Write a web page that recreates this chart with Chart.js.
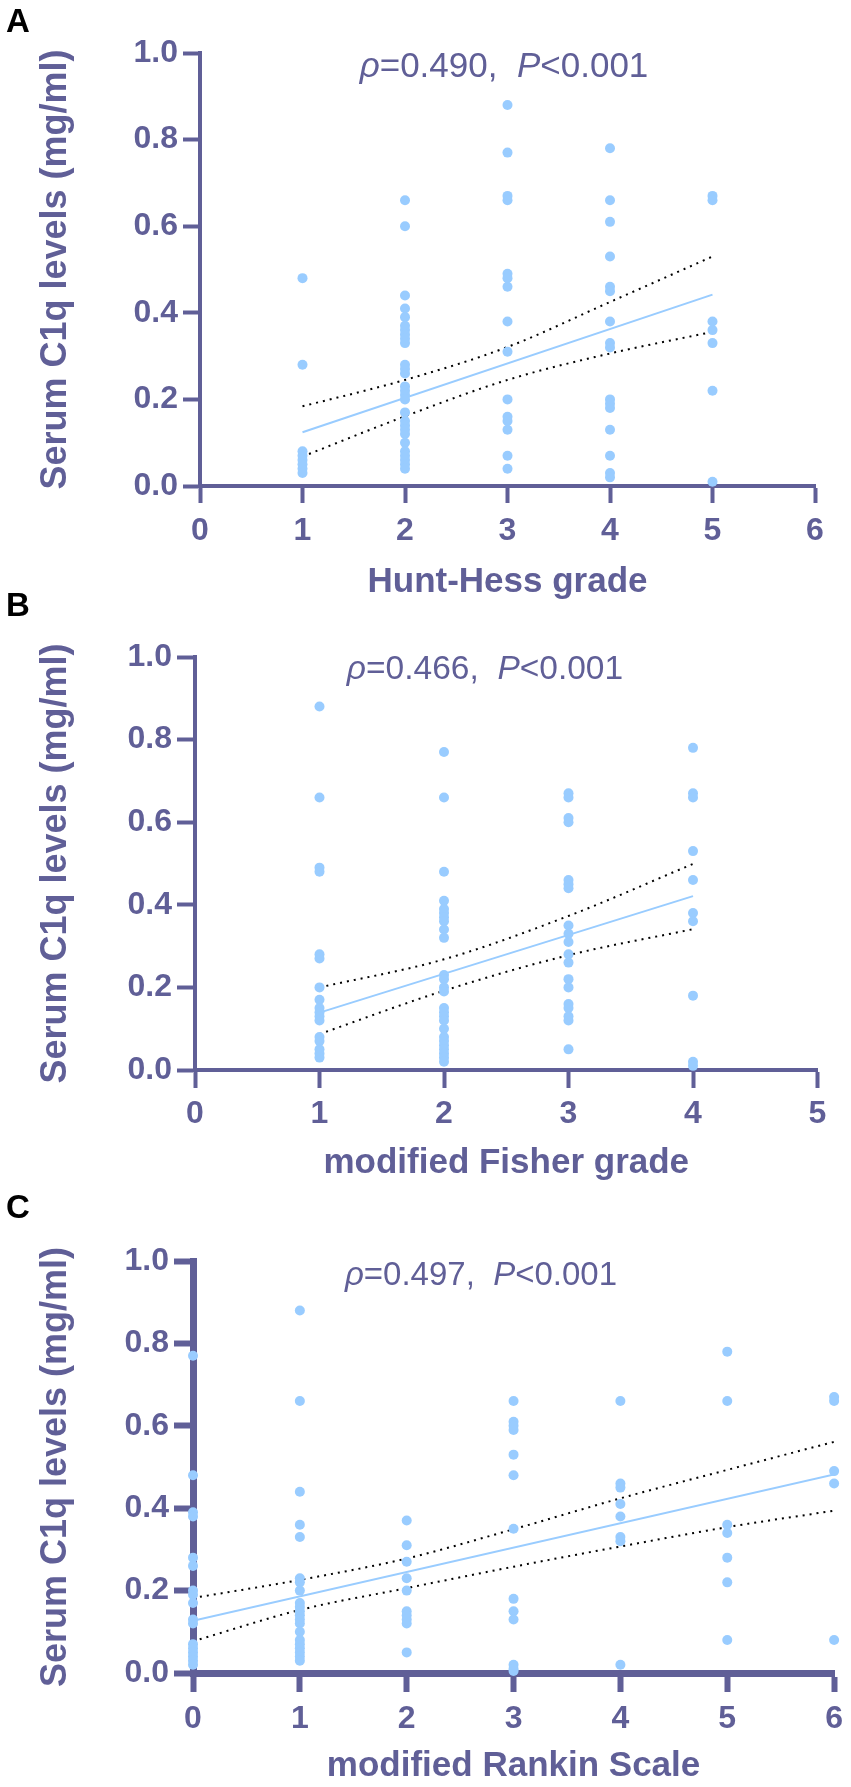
<!DOCTYPE html>
<html>
<head>
<meta charset="utf-8">
<title>Serum C1q levels vs clinical grades</title>
<script src="https://cdn.jsdelivr.net/npm/chart.js@4.4.1/dist/chart.umd.min.js"></script>
<style>
  body { margin: 0; background: #fff; }
  #page { position: relative; width: 851px; height: 1787px; overflow: hidden; font-family: "Liberation Sans", Arial, sans-serif; }
  #page canvas { position: absolute; left: 0; }
  .panel-letter { position: absolute; left: 6px; font-size: 33px; line-height: 33px; font-weight: bold; color: #000; }
  .stat { position: absolute; width: 400px; text-align: center; white-space: pre; color: #605f97; }
</style>
</head>
<body>
<div id="page">
  <canvas id="chartA" width="851" height="616" style="top:0px"></canvas>
  <canvas id="chartB" width="851" height="584" style="top:616px"></canvas>
  <canvas id="chartC" width="851" height="587" style="top:1200px"></canvas>

  <div class="panel-letter" style="top:4px">A</div>
  <div class="panel-letter" style="top:588px">B</div>
  <div class="panel-letter" style="top:1190px">C</div>

  <div class="stat" style="left:304px; top:47px; font-size:35px; line-height:35px"><i>ρ</i>=0.490,  <i>P</i>&lt;0.001</div>
  <div class="stat" style="left:285px; top:651px; font-size:33.5px; line-height:33.5px"><i>ρ</i>=0.466,  <i>P</i>&lt;0.001</div>
  <div class="stat" style="left:281px; top:1257px; font-size:33px; line-height:33px"><i>ρ</i>=0.497,  <i>P</i>&lt;0.001</div>
</div>

<script>
// ---- data (serum C1q, mg/ml) ----

const yTickValues = [0, 0.2, 0.4, 0.6, 0.8, 1.0];
const yTickLabels = ['0.0', '0.2', '0.4', '0.6', '0.8', '1.0'];

// A: Hunt-Hess grade
const huntHessTicks = [0, 1, 2, 3, 4, 5, 6];
const huntHessGrades = [1, 2, 3, 4, 5];
const huntHessLevels = [
    [0.48, 0.28, 0.08, 0.07, 0.06, 0.05, 0.04, 0.03],
    [0.66, 0.60, 0.44, 0.41, 0.39, 0.37, 0.36, 0.35, 0.34, 0.33, 0.28, 0.27, 0.26, 0.23,
     0.22, 0.21, 0.20, 0.17, 0.15, 0.14, 0.13, 0.12, 0.10, 0.08, 0.07, 0.06, 0.05, 0.04],
    [0.88, 0.77, 0.67, 0.66, 0.49, 0.48, 0.46, 0.38, 0.31, 0.20, 0.16, 0.15, 0.13, 0.07, 0.04],
    [0.78, 0.66, 0.61, 0.53, 0.46, 0.45, 0.38, 0.33, 0.32, 0.20, 0.19, 0.18, 0.13, 0.07, 0.03, 0.02],
    [0.67, 0.66, 0.38, 0.36, 0.33, 0.22, 0.01]
];
const huntHessFitX = [1, 5];
const huntHessFitY = [0.124, 0.442];
const huntHessBandX = [1, 2, 3, 4, 5];
const huntHessUpper = [0.184, 0.245, 0.321, 0.425, 0.530];
const huntHessLower = [0.068, 0.161, 0.245, 0.306, 0.356];

// B: modified Fisher grade
const fisherTicks = [0, 1, 2, 3, 4, 5];
const fisherGrades = [1, 2, 3, 4];
const fisherLevels = [
    [0.88, 0.66, 0.49, 0.48, 0.28, 0.27, 0.20, 0.17, 0.15, 0.14, 0.13, 0.12, 0.08, 0.07, 0.05, 0.04, 0.03],
    [0.77, 0.66, 0.48, 0.41, 0.39, 0.38, 0.37, 0.36, 0.34, 0.32, 0.23, 0.22, 0.20,
     0.19, 0.15, 0.14, 0.13, 0.12, 0.10, 0.08, 0.07, 0.06, 0.05, 0.04, 0.03, 0.02],
    [0.67, 0.66, 0.61, 0.60, 0.46, 0.45, 0.44, 0.35, 0.33, 0.31, 0.28, 0.26, 0.22, 0.20, 0.16, 0.15, 0.13, 0.12, 0.05],
    [0.78, 0.67, 0.66, 0.53, 0.46, 0.38, 0.36, 0.18, 0.02, 0.01]
];
const fisherFitX = [1, 4];
const fisherFitY = [0.139, 0.421];
const fisherBandX = [1, 2, 3, 4];
const fisherUpper = [0.200, 0.268, 0.373, 0.499];
const fisherLower = [0.087, 0.192, 0.278, 0.341];

// C: modified Rankin Scale
const rankinTicks = [0, 1, 2, 3, 4, 5, 6];
const rankinScores = [0, 1, 2, 3, 4, 5, 6];
const rankinLevels = [
    [0.77, 0.48, 0.39, 0.38, 0.28, 0.26, 0.20, 0.19, 0.17, 0.13, 0.12, 0.07, 0.06, 0.05, 0.04, 0.03, 0.02],
    [0.88, 0.66, 0.44, 0.36, 0.33, 0.23, 0.22, 0.20, 0.17, 0.16, 0.15, 0.14, 0.13, 0.12,
     0.10, 0.08, 0.07, 0.06, 0.05, 0.04, 0.03],
    [0.37, 0.31, 0.27, 0.23, 0.20, 0.15, 0.14, 0.13, 0.12, 0.05],
    [0.66, 0.61, 0.60, 0.59, 0.53, 0.48, 0.35, 0.18, 0.15, 0.13, 0.02, 0.01, 0.005],
    [0.66, 0.46, 0.45, 0.41, 0.38, 0.33, 0.32, 0.02],
    [0.78, 0.66, 0.36, 0.34, 0.28, 0.22, 0.08],
    [0.67, 0.66, 0.49, 0.46, 0.08]
];
const rankinFitX = [0, 6];
const rankinFitY = [0.127, 0.482];
const rankinBandX = [0, 1, 2, 3, 4, 5, 6];
const rankinUpper = [0.182, 0.226, 0.278, 0.349, 0.424, 0.493, 0.561];
const rankinLower = [0.077, 0.153, 0.206, 0.258, 0.307, 0.354, 0.394];

// ---- styling ----
const INK = '#605f97';
const DOT = '#99ccff';
const FONT = '"Liberation Sans", Arial, Helvetica, sans-serif';
const tickFont = { family: FONT, size: 32, weight: 'bold' };

/**
 * Build one scatter panel: dots per category, fit line and dotted 95% band
 */
function makePanel(canvasId, p) {
    const dots = [];
    p.categories.forEach((c, i) => {
        p.levels[i].forEach(v => dots.push({ x: c, y: v }));
    });
    const pairs = (xs, ys) => xs.map((x, i) => ({ x: x, y: ys[i] }));

    const bandStyle = {
        type: 'line',
        borderColor: '#000',
        borderWidth: 2,
        borderDash: [2, 5],
        pointRadius: 0,
        cubicInterpolationMode: 'monotone',
        order: 2
    };

    return new Chart(document.getElementById(canvasId), {
        type: 'scatter',
        data: {
            datasets: [
                {
                    data: dots,
                    pointRadius: 5,
                    pointBackgroundColor: DOT,
                    pointBorderWidth: 0,
                    clip: false,
                    order: 0
                },
                {
                    type: 'line',
                    data: pairs(p.fitX, p.fitY),
                    borderColor: DOT,
                    borderWidth: 2,
                    pointRadius: 0,
                    order: 1
                },
                Object.assign({ data: pairs(p.bandX, p.upper) }, bandStyle),
                Object.assign({ data: pairs(p.bandX, p.lower) }, bandStyle)
            ]
        },
        options: {
            responsive: false,
            animation: false,
            events: [],
            layout: {
                padding: { top: p.padTop, right: p.padRight, bottom: 0, left: 0 }
            },
            plugins: {
                legend: { display: false },
                tooltip: { enabled: false }
            },
            scales: {
                x: {
                    type: 'linear',
                    min: p.xTicks[0],
                    max: p.xTicks[p.xTicks.length - 1],
                    afterBuildTicks: s => { s.ticks = p.xTicks.map(v => ({ value: v })); },
                    afterFit: s => { s.height = p.xAxisHeight; },
                    ticks: {
                        color: INK,
                        font: tickFont,
                        padding: p.xTickPad,
                        maxRotation: 0,
                        autoSkip: false,
                        callback: v => String(v)
                    },
                    grid: {
                        drawOnChartArea: false,
                        tickLength: p.tickLen,
                        tickWidth: p.tickWidth,
                        tickColor: INK
                    },
                    border: { color: INK, width: p.axisWidth },
                    title: {
                        display: true,
                        text: p.xTitle,
                        color: INK,
                        font: { family: FONT, size: 35, weight: 'bold' },
                        padding: { top: 0, bottom: p.xTitlePad }
                    }
                },
                y: {
                    type: 'linear',
                    min: 0,
                    max: 1,
                    afterBuildTicks: s => { s.ticks = yTickValues.map(v => ({ value: v })); },
                    afterFit: s => { s.width = p.yAxisWidth; },
                    ticks: {
                        color: INK,
                        font: tickFont,
                        padding: 5,
                        autoSkip: false,
                        callback: (v, i) => yTickLabels[i]
                    },
                    grid: {
                        drawOnChartArea: false,
                        tickLength: p.tickLen,
                        tickWidth: p.tickWidth,
                        tickColor: INK
                    },
                    border: { color: INK, width: p.axisWidth },
                    title: {
                        display: true,
                        text: 'Serum C1q levels (mg/ml)',
                        color: INK,
                        font: { family: FONT, size: 36, weight: 'bold' },
                        padding: { top: 34, bottom: 0 }
                    }
                }
            }
        }
    });
}

makePanel('chartA', {
    categories: huntHessGrades, levels: huntHessLevels,
    fitX: huntHessFitX, fitY: huntHessFitY,
    bandX: huntHessBandX, upper: huntHessUpper, lower: huntHessLower,
    xTicks: huntHessTicks, xTitle: 'Hunt-Hess grade',
    padTop: 53, padRight: 36, yAxisWidth: 200, xAxisHeight: 130,
    xTickPad: 9, xTitlePad: 13, tickLen: 17, tickWidth: 4, axisWidth: 4
});

makePanel('chartB', {
    categories: fisherGrades, levels: fisherLevels,
    fitX: fisherFitX, fitY: fisherFitY,
    bandX: fisherBandX, upper: fisherUpper, lower: fisherLower,
    xTicks: fisherTicks, xTitle: 'modified Fisher grade',
    padTop: 41, padRight: 33.5, yAxisWidth: 195, xAxisHeight: 130,
    xTickPad: 7, xTitlePad: 16, tickLen: 18, tickWidth: 4, axisWidth: 4
});

makePanel('chartC', {
    categories: rankinScores, levels: rankinLevels,
    fitX: rankinFitX, fitY: rankinFitY,
    bandX: rankinBandX, upper: rankinUpper, lower: rankinLower,
    xTicks: rankinTicks, xTitle: 'modified Rankin Scale',
    padTop: 61, padRight: 13.5, yAxisWidth: 193, xAxisHeight: 114,
    xTickPad: 8, xTitlePad: 0, tickLen: 19, tickWidth: 6, axisWidth: 7
});
</script>
</body>
</html>
